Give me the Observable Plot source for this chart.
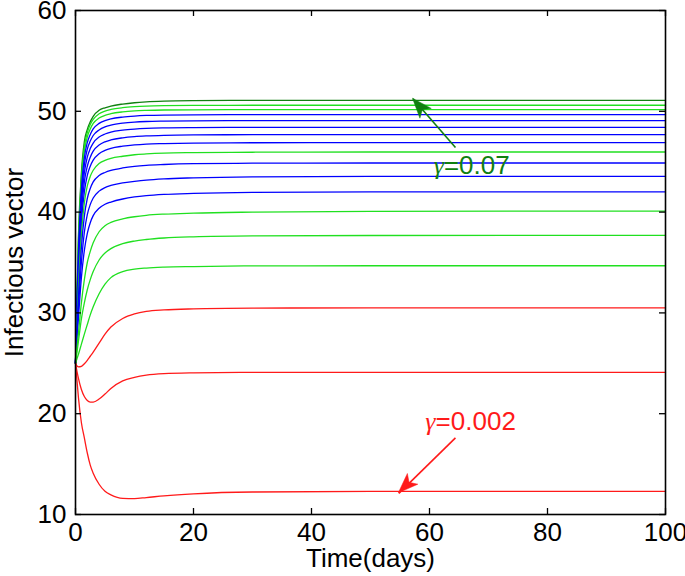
<!DOCTYPE html>
<html><head><meta charset="utf-8">
<script src="https://cdn.jsdelivr.net/npm/d3@7"></script>
<script src="https://cdn.jsdelivr.net/npm/@observablehq/plot@0.6"></script>
<style>body{margin:0;background:#fff;}</style>
</head><body><div id="chart"></div>
<script>
// time samples (days)
const times = [0, 0.25, 0.5, 1, 1.5, 2, 2.5, 3, 4, 5, 6, 8, 10, 12, 15, 20, 30, 50, 100];

// colour of each curve (top to bottom)
const curveColors = ["#108010","#20e020","#20e020","#0000ff","#0000ff","#0000ff","#0000ff","#0000ff",
  "#20e020","#0000ff","#0000ff","#0000ff","#20e020","#20e020","#20e020","#ff1a1a","#ff1a1a","#ff1a1a"];

// infectious vector values, one array per curve
const curve01 = [25, 31.8, 37.6, 43.9, 47.0, 48.2, 48.95, 49.5, 50.1, 50.35, 50.52, 50.72, 50.85, 50.93, 51.0, 51.05, 51.08, 51.09, 51.09];
const curve02 = [25, 31.5, 37.1, 43.4, 46.5, 47.9, 48.7, 49.2, 49.75, 50.02, 50.18, 50.36, 50.46, 50.52, 50.56, 50.58, 50.6, 50.6, 50.6];
const curve03 = [25, 31.2, 36.6, 42.9, 46.0, 47.45, 48.25, 48.8, 49.33, 49.6, 49.76, 49.94, 50.04, 50.09, 50.13, 50.15, 50.17, 50.17, 50.17];
const curve04 = [25, 30.9, 36.0, 42.3, 45.4, 46.9, 47.7, 48.25, 48.8, 49.08, 49.25, 49.43, 49.53, 49.59, 49.63, 49.65, 49.67, 49.67, 49.67];
const curve05 = [25, 30.6, 35.4, 41.6, 44.7, 46.25, 47.05, 47.6, 48.15, 48.45, 48.62, 48.82, 48.93, 48.99, 49.03, 49.06, 49.08, 49.08, 49.08];
const curve06 = [25, 30.2, 34.7, 40.8, 43.9, 45.45, 46.3, 46.85, 47.45, 47.75, 47.94, 48.13, 48.24, 48.31, 48.36, 48.39, 48.41, 48.41, 48.41];
const curve07 = [25, 29.9, 34.0, 39.9, 43.0, 44.55, 45.45, 46.05, 46.65, 46.97, 47.16, 47.37, 47.49, 47.56, 47.62, 47.66, 47.68, 47.69, 47.69];
const curve08 = [25, 29.5, 33.3, 38.9, 42.0, 43.65, 44.55, 45.15, 45.8, 46.12, 46.33, 46.54, 46.67, 46.75, 46.8, 46.85, 46.88, 46.89, 46.89];
const curve09 = [25, 29.1, 32.5, 37.8, 40.9, 42.6, 43.55, 44.15, 44.82, 45.13, 45.33, 45.54, 45.69, 45.77, 45.85, 45.9, 45.94, 45.96, 45.96];
const curve10 = [25, 28.6, 31.5, 36.5, 39.6, 41.35, 42.35, 43.0, 43.63, 43.93, 44.13, 44.38, 44.54, 44.64, 44.72, 44.8, 44.85, 44.87, 44.87];
const curve11 = [25, 28.0, 30.5, 35.0, 38.0, 39.75, 40.75, 41.4, 42.08, 42.43, 42.64, 42.89, 43.05, 43.18, 43.3, 43.4, 43.5, 43.55, 43.55];
const curve12 = [25, 27.4, 29.5, 33.5, 36.2, 37.9, 38.95, 39.65, 40.38, 40.78, 41.0, 41.3, 41.5, 41.63, 41.75, 41.85, 41.95, 42.0, 42.0];
const curve13 = [25, 26.6, 28.0, 31.0, 33.3, 35.0, 36.1, 36.95, 38.05, 38.65, 38.98, 39.33, 39.54, 39.68, 39.8, 39.9, 40.0, 40.08, 40.1];
const curve14 = [25, 26.1, 27.2, 29.4, 31.0, 32.3, 33.3, 34.1, 35.25, 35.95, 36.38, 36.88, 37.13, 37.28, 37.43, 37.55, 37.64, 37.68, 37.69];
const curve15 = [25, 25.45, 25.9, 26.9, 27.9, 28.85, 29.8, 30.6, 31.9, 32.85, 33.5, 34.1, 34.34, 34.45, 34.54, 34.6, 34.66, 34.68, 34.68];
const curve16 = [25, 24.75, 24.65, 24.7, 24.95, 25.3, 25.7, 26.1, 27.0, 27.9, 28.6, 29.45, 29.9, 30.15, 30.3, 30.4, 30.47, 30.5, 30.5];
const curve17 = [25, 24.2, 23.5, 22.4, 21.7, 21.3, 21.15, 21.15, 21.45, 21.95, 22.5, 23.25, 23.6, 23.82, 23.97, 24.05, 24.1, 24.1, 24.1];
const curve18 = [25, 23.3, 21.6, 19.1, 17.6, 16.1, 14.9, 14.1, 13.0, 12.3, 11.95, 11.6, 11.58, 11.68, 11.85, 12.05, 12.23, 12.29, 12.3];
const curves = [curve01, curve02, curve03, curve04, curve05, curve06, curve07, curve08, curve09,
  curve10, curve11, curve12, curve13, curve14, curve15, curve16, curve17, curve18];

// axes
const xTicks = [0, 20, 40, 60, 80, 100];
const yTicks = [10, 20, 30, 40, 50, 60];
const xLabel = "Time(days)";
const yLabel = "Infectious vector";

// annotations: text position, arrow tail and tip
const noteTexts = ["γ=0.07", "γ=0.002"];
const noteColors = ["#108010", "#ff1a1a"];
const noteTextX = [60.7, 59.3];
const noteTextY = [43.8, 18.4];
const arrowX1 = [64.4, 64.4];
const arrowY1 = [46.4, 17.6];
const arrowX2 = [57.2, 54.8];
const arrowY2 = [51.25, 12.1];

const rows = [];
curves.forEach((c, i) => c.forEach((v, j) => rows.push({t: times[j], v, s: i, color: curveColors[i]})));
const notes = noteTexts.map((text, i) => ({text, color: noteColors[i], x: noteTextX[i], y: noteTextY[i],
  x1: arrowX1[i], y1: arrowY1[i], x2: arrowX2[i], y2: arrowY2[i]}));

const W = 685, H = 576, mL = 75, mR = 20, mT = 10, mB = 62;
const pw = W - mL - mR, ph = H - mT - mB, tk = 6;
const font = "Liberation Sans, Arial, Helvetica, sans-serif";

const chart = Plot.plot({
  width: W, height: H,
  marginLeft: mL, marginRight: mR, marginTop: mT, marginBottom: mB,
  style: {fontFamily: font, fontSize: "26px", background: "#fff", color: "#000"},
  x: {domain: [0, 100]},
  y: {domain: [10, 60]},
  color: {type: "identity"},
  marks: [
    Plot.line(rows, {x: "t", y: "v", z: "s", stroke: "color", strokeWidth: 1.3, curve: "monotone-x"}),
    Plot.frame({stroke: "#000", strokeWidth: 1.6}),
    Plot.tickX(xTicks, {x: d => d, insetTop: ph - tk, stroke: "#000", strokeWidth: 1.3}),
    Plot.tickX(xTicks, {x: d => d, insetBottom: ph - tk, stroke: "#000", strokeWidth: 1.3}),
    Plot.tickY(yTicks, {y: d => d, insetRight: pw - tk, stroke: "#000", strokeWidth: 1.3}),
    Plot.tickY(yTicks, {y: d => d, insetLeft: pw - tk, stroke: "#000", strokeWidth: 1.3}),
    Plot.axisX(xTicks, {anchor: "bottom", tickSize: 0, tickPadding: 8, fontSize: 26, label: null}),
    Plot.axisY(yTicks, {anchor: "left", tickSize: 0, tickPadding: 9, fontSize: 26, label: null}),
    Plot.text([xLabel], {text: d => d, frameAnchor: "bottom", textAnchor: "middle", dy: 52, fontSize: 26}),
    Plot.text([yLabel], {text: d => d, frameAnchor: "left", textAnchor: "middle", rotate: -90, dx: -61, fontSize: 26}),
    Plot.link(notes, {x1: "x1", y1: "y1", x2: "x2", y2: "y2", stroke: "color", strokeWidth: 1.6}),
    Plot.text(notes, {x: "x", y: "y", text: "text", fill: "color", textAnchor: "start", lineAnchor: "bottom", fontSize: 26})
  ]
});

// filled arrow heads, placed through the plot's own scales
const sx = chart.scale("x"), sy = chart.scale("y");
const svg = d3.select(chart);
notes.forEach(n => {
  const px = sx.apply(n.x2), py = sy.apply(n.y2);
  const qx = sx.apply(n.x1), qy = sy.apply(n.y1);
  const dx = px - qx, dy = py - qy, len = Math.hypot(dx, dy);
  const ux = dx / len, uy = dy / len, nx = -uy, ny = ux;
  const L = 20, Wd = 7.5, notch = 5;
  const pts = [[px, py],
    [px - L * ux + Wd * nx, py - L * uy + Wd * ny],
    [px - (L - notch) * ux, py - (L - notch) * uy],
    [px - L * ux - Wd * nx, py - L * uy - Wd * ny]];
  svg.append("path").attr("d", "M" + pts.map(p => p.join(",")).join("L") + "Z")
    .attr("fill", n.color).attr("stroke", n.color).attr("stroke-width", 0.5);
});

// render the Greek gamma in an italic serif face, as in the original
svg.selectAll("text").each(function () {
  const el = d3.select(this);
  const s = this.textContent;
  if (s.startsWith("γ") && this.childElementCount === 0) {
    el.text(null);
    el.append("tspan").attr("font-family", "Liberation Serif, Times New Roman, serif").attr("font-style", "italic").text("γ");
    el.append("tspan").text(s.slice(1));
  }
});

document.getElementById("chart").appendChild(chart);
</script>
</body></html>
